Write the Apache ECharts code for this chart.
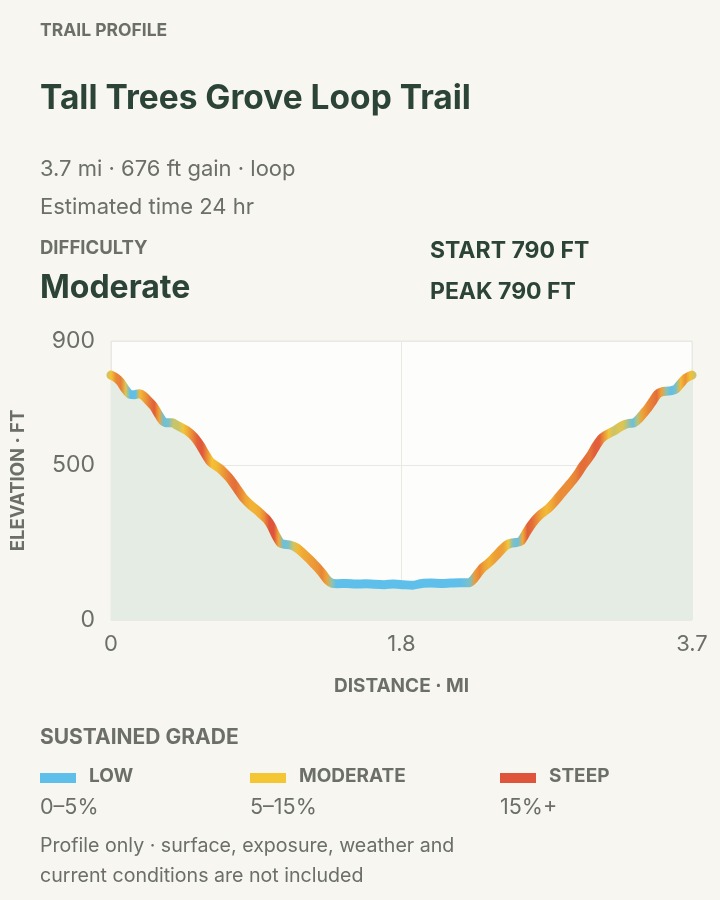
<!DOCTYPE html>
<html>
<head>
<meta charset="utf-8">
<script src="https://cdn.jsdelivr.net/npm/echarts@6/dist/echarts.min.js"></script>
<style>
  html, body { margin:0; padding:0; background:#f7f6f1; }
  body { width:720px; height:900px; position:relative; overflow:hidden; font-family: Inter, "Liberation Sans", Arial, sans-serif; }
  #chart { position:absolute; left:0; top:0; width:720px; height:900px; }
  .t { position:absolute; white-space:nowrap; }
  .kicker { color:#6b6f68; font-weight:700; font-size:17.5px; line-height:22px; }
  .title { color:#2c4437; font-weight:700; font-size:33.5px; line-height:40px; }
  .meta { color:#6b6f68; font-size:22px; line-height:28px; }
  .note { color:#6b6f68; font-size:19.6px; line-height:26px; }
  .big { color:#2c4437; font-weight:700; font-size:32px; line-height:38px; }
  .stat { color:#2c4437; font-weight:700; font-size:23px; line-height:28px; }
  .sw { position:absolute; width:36px; height:10px; }
  .lg { color:#6b6f68; font-weight:700; font-size:19px; line-height:22px; }
</style>
</head>
<body>
<div id="chart"></div>

<div class="t kicker" style="left:40px;top:19px;">TRAIL PROFILE</div>
<div class="t title" style="left:40px;top:77px;">Tall Trees Grove Loop Trail</div>
<div class="t meta" style="left:40px;top:154px;">3.7 mi · 676 ft gain · loop</div>
<div class="t meta" style="left:40px;top:192px;">Estimated time 24 hr</div>
<div class="t kicker" style="left:40px;top:236px;font-size:18.5px;">DIFFICULTY</div>
<div class="t big" style="left:40px;top:268px;">Moderate</div>
<div class="t stat" style="left:430px;top:236px;">START 790 FT</div>
<div class="t stat" style="left:430px;top:277px;">PEAK 790 FT</div>

<div class="t kicker" style="left:40px;top:726px;font-size:21px;line-height:22px;">SUSTAINED GRADE</div>
<div class="sw" style="left:40px;top:773px;background:#5ebfeb;"></div>
<div class="t lg" style="left:89px;top:765px;">LOW</div>
<div class="t meta" style="left:40px;top:792px;font-size:21.5px;">0–5%</div>
<div class="sw" style="left:250px;top:773px;background:#f5c634;"></div>
<div class="t lg" style="left:299px;top:765px;">MODERATE</div>
<div class="t meta" style="left:250px;top:792px;font-size:21.5px;">5–15%</div>
<div class="sw" style="left:500px;top:773px;background:#df553b;"></div>
<div class="t lg" style="left:549px;top:765px;">STEEP</div>
<div class="t meta" style="left:500px;top:792px;font-size:21.5px;">15%+</div>
<div class="t note" style="left:40px;top:832px;">Profile only · surface, exposure, weather and</div>
<div class="t note" style="left:40px;top:862px;">current conditions are not included</div>

<script>
// ---- data ----
const distanceMi = [
  0, 0.03, 0.06, 0.09, 0.12, 0.15, 0.18, 0.21, 0.24, 0.27, 0.30, 0.33, 0.36, 0.39, 0.42, 0.45,
  0.48, 0.51, 0.54, 0.57, 0.60, 0.63, 0.66, 0.69, 0.72, 0.75, 0.78, 0.81, 0.84, 0.87, 0.90, 0.93,
  0.96, 0.99, 1.02, 1.05, 1.08, 1.11, 1.14, 1.17, 1.20, 1.23, 1.26, 1.29, 1.32, 1.35, 1.38, 1.41,
  1.44, 1.50, 1.56, 1.62, 1.68, 1.74, 1.80, 1.86, 1.92, 1.98, 2.04, 2.10, 2.16, 2.22, 2.28,
  2.31, 2.34, 2.37, 2.40, 2.43, 2.46, 2.49, 2.52, 2.55, 2.58, 2.61, 2.64, 2.67, 2.70, 2.73, 2.76,
  2.79, 2.82, 2.85, 2.88, 2.91, 2.94, 2.97, 3.00, 3.03, 3.06, 3.09, 3.12, 3.15, 3.18, 3.21, 3.24,
  3.27, 3.30, 3.33, 3.36, 3.39, 3.42, 3.45, 3.48, 3.51, 3.54, 3.57, 3.60, 3.63, 3.66, 3.70
];
const elevationFt = [
  790, 782, 768, 745, 728, 727, 730, 722, 706, 690, 665, 642, 636, 636, 628, 620,
  612, 600, 584, 562, 536, 512, 500, 490, 476, 460, 440, 418, 396, 380, 366, 354,
  340, 326, 304, 272, 248, 244, 242, 236, 226, 212, 198, 182, 166, 148, 128, 118,
  117, 118, 116, 117, 115, 114, 116, 114, 112, 118, 119, 118, 119, 120, 120,
  132, 152, 170, 182, 196, 212, 228, 242, 248, 250, 254, 278, 302, 322, 338, 350,
  362, 378, 396, 414, 432, 450, 470, 494, 514, 536, 562, 584, 596, 604, 612, 622,
  630, 634, 636, 648, 666, 684, 706, 728, 736, 738, 740, 746, 764, 780, 790
];
const gradeClasses = ['LOW', 'MODERATE', 'STEEP'];
const gradeAnchors = [1.5, 6.5, 16];    // percent grade where each class colour is pure
const gradeColors = ['#5ebfeb', '#f5c634', '#df553b'];
const xTickValues = [0, 1.85, 3.7];
const xTickLabels = ['0', '1.8', '3.7'];
const yTickLabels = ['0', '500', '900'];

// ---- grade -> colour (blended between class colours) ----
function gradeColor(g) {
  if (g <= gradeAnchors[0]) return gradeColors[0];
  if (g >= gradeAnchors[gradeAnchors.length - 1]) return gradeColors[gradeColors.length - 1];
  for (let k = 0; k < gradeAnchors.length - 1; k++) {
    if (g <= gradeAnchors[k + 1]) {
      const t = (g - gradeAnchors[k]) / (gradeAnchors[k + 1] - gradeAnchors[k]);
      return echarts.color.lerp(t, [gradeColors[k], gradeColors[k + 1]]);
    }
  }
}
const n = distanceMi.length;
const span = distanceMi[n - 1] - distanceMi[0];
const stops = [];
for (let i = 0; i < n; i++) {
  const a = Math.max(0, i - 1), b = Math.min(n - 1, i + 1);
  const grade = Math.abs(elevationFt[b] - elevationFt[a]) / ((distanceMi[b] - distanceMi[a]) * 5280) * 100;
  stops.push({ offset: (distanceMi[i] - distanceMi[0]) / span, color: gradeColor(grade) });
}

const data = distanceMi.map((d, i) => [d, elevationFt[i]]);
const gray = '#6b6f68';
const font = 'Inter, "Liberation Sans", Arial, sans-serif';

const chart = echarts.init(document.getElementById('chart'), null, { renderer: 'canvas' });
chart.setOption({
  backgroundColor: 'transparent',
  animation: false,
  textStyle: { fontFamily: font },
  grid: {
    left: 111, right: 28, top: 341, bottom: 280,
    outerBoundsMode: 'none', containLabel: false,
    show: true, backgroundColor: '#fdfdfb', borderColor: '#e8e8e2', borderWidth: 1
  },
  xAxis: {
    type: 'value', min: 0, max: 3.7, interval: 1.85,
    axisLine: { show: false }, axisTick: { show: false },
    splitLine: { show: true, lineStyle: { color: '#e9e9e4', width: 1 } },
    axisLabel: {
      color: gray, fontSize: 22, margin: 13, fontFamily: font,
      showMinLabel: true, showMaxLabel: true,
      formatter: v => {
        let k = 0;
        xTickValues.forEach((t, i) => { if (Math.abs(t - v) < Math.abs(xTickValues[k] - v)) k = i; });
        return xTickLabels[k];
      }
    },
    name: 'DISTANCE · MI', nameLocation: 'middle', nameGap: 57,
    nameTextStyle: { color: gray, fontWeight: 'bold', fontSize: 19, fontFamily: font }
  },
  yAxis: {
    type: 'value', min: 0, max: 900, interval: 500,
    axisLine: { show: false }, axisTick: { show: false },
    splitLine: { show: true, lineStyle: { color: '#e9e9e4', width: 1 } },
    axisLabel: {
      color: gray, fontSize: 23, margin: 16, fontFamily: font,
      showMinLabel: true, showMaxLabel: true,
      formatter: v => {
        const s = String(Math.round(v));
        return yTickLabels.indexOf(s) >= 0 ? s : '';
      }
    },
    name: 'ELEVATION · FT', nameLocation: 'middle', nameGap: 83,
    nameTextStyle: { color: gray, fontWeight: 'bold', fontSize: 18.5, fontFamily: font }
  },
  series: [{
    type: 'line',
    data: data,
    showSymbol: false,
    smooth: 0.25,
    clip: false,
    silent: true,
    lineStyle: {
      width: 9, cap: 'round', join: 'round',
      color: { type: 'linear', x: 0, y: 0, x2: 1, y2: 0, colorStops: stops }
    },
    areaStyle: { color: '#e4ece4', opacity: 1 }
  }]
});
</script>
</body>
</html>
